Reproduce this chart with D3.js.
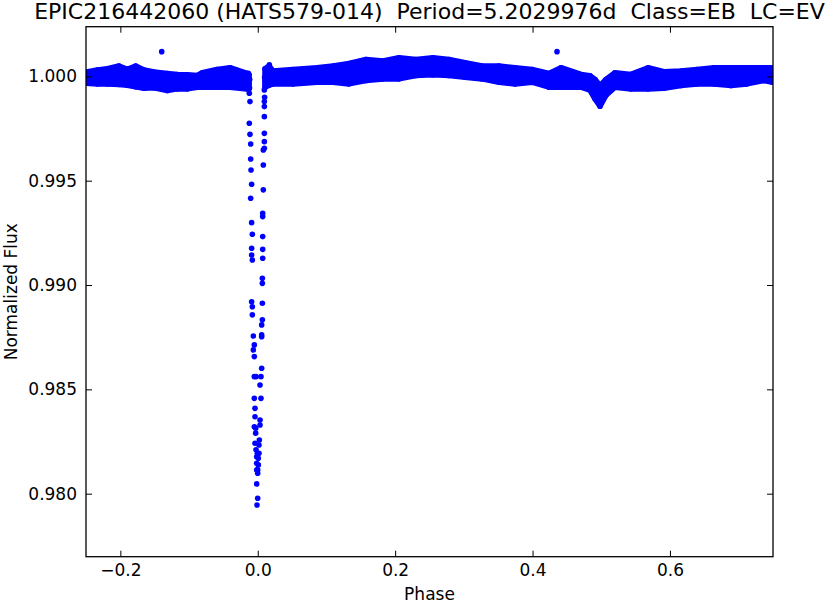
<!DOCTYPE html>
<html><head><meta charset="utf-8">
<script src="https://cdn.jsdelivr.net/npm/d3@7"></script>
<style>body{margin:0;background:#fff} svg{display:block}</style>
</head><body><svg id="c" width="830" height="603"></svg>
<script>
const titleText = "EPIC216442060 (HATS579-014)  Period=5.2029976d  Class=EB  LC=EV";
const xLabel = "Phase";
const yLabel = "Normalized Flux";
const xTicks = [-0.2, 0.0, 0.2, 0.4, 0.6];
const yTicks = [0.980, 0.985, 0.990, 0.995, 1.000];
const xDomain = [-0.25, 0.75];
const yDomain = [0.97698, 1.00238];

// dense out-of-eclipse band: phase, upper and lower envelope of flux (null = eclipse gap)
const bandPhase = [-0.2495,-0.2335,-0.2190,-0.2020,-0.1899,-0.1777,-0.1656,-0.1510,-0.1317,-0.1171,-0.1025,-0.0880,-0.0807,-0.0593,-0.0404,-0.0156,-0.0127,0.0,
  0.0106,0.0164,0.0222,0.0513,0.0862,0.1095,0.1328,0.1576,0.1823,0.2056,0.2303,0.2551,0.2784,0.3017,0.3264,0.3512,0.3745,0.3992,
  0.4239,0.4414,0.4705,0.4836,0.4909,0.4982,0.5069,0.5200,0.5433,0.5681,0.5913,0.6161,0.6394,0.6641,0.6889,0.7122,0.7369,0.7495];
const bandUpper = [1.000206,1.000302,1.000364,1.000494,1.000331,1.000494,1.000302,1.000206,1.000139,1.000091,1.000077,1.000043,1.000173,1.000331,1.000412,1.000139,1.000077,null,
  1.000364,1.000494,1.000254,1.000331,1.000412,1.000494,1.000618,1.000810,1.000733,1.000891,1.000810,1.000891,1.000810,1.000652,1.000494,1.000494,1.000412,1.000331,
  1.000134,1.000412,1.000091,1.000029,0.999851,0.999550,0.999851,1.000173,1.000091,1.000412,1.000220,1.000254,1.000331,1.000412,1.000412,1.000412,1.000412,1.000412];
const bandLower = [0.999674,0.999641,0.999631,0.999612,0.999578,0.999506,0.999434,0.999458,0.999324,0.999401,0.999401,0.999482,0.999482,0.999482,0.999482,0.999401,0.999401,null,
  0.999482,0.999578,0.999641,0.999641,0.999722,0.999722,0.999641,0.999804,0.999880,0.999880,1.000043,1.000081,1.000043,0.999962,0.999880,0.999722,0.999641,0.999722,
  0.999482,0.999482,0.999482,0.999339,0.998922,0.998572,0.999099,0.999482,0.999401,0.999401,0.999434,0.999564,0.999641,0.999641,0.999564,0.999641,0.999804,0.999722];

// individual in-eclipse points
const eclPhase = [-0.0137,-0.0127,-0.0123,-0.0113,-0.0123,-0.0113,-0.0103,-0.0103,-0.0098,-0.0089,-0.0103,-0.0089,-0.0079,-0.0089,-0.0089,-0.0079,
  -0.0089,-0.0079,-0.0079,-0.0064,-0.0050,-0.0064,-0.0050,-0.0050,-0.0025,-0.0050,-0.0040,-0.0040,-0.0050,-0.0030,-0.0030,-0.0040,-0.0025,
  -0.0016,-0.0016,-0.0016,-0.0016,-0.0001,-0.0011,-0.0117,-0.0120,-0.0127,
  0.0169,0.0120,0.0106,0.0096,0.0096,0.0096,0.0096,0.0096,0.0096,0.0096,0.0081,0.0081,0.0081,0.0072,0.0072,0.0072,0.0072,0.0072,
  0.0067,0.0067,0.0067,0.0067,0.0057,0.0057,0.0057,0.0057,0.0047,0.0033,0.0047,0.0033,0.0033,0.0023,0.0018,0.0018,0.0008,0.0008,
  -0.0001,-0.0001,-0.0006,0.0100,0.0110,0.0100];
const eclFlux = [1.00015,0.99967,0.99919,0.99879,0.99775,0.99722,0.99676,0.99604,0.99551,0.99483,0.99416,0.99299,0.99243,0.99176,0.99144,0.99120,
  0.98920,0.98896,0.98857,0.98756,0.98713,0.98689,0.98657,0.98561,0.98561,0.98457,0.98409,0.98369,0.98321,0.98314,0.98290,0.98242,0.98210,
  0.98177,0.98146,0.98114,0.98047,0.97978,0.97946,0.99985,0.99945,0.99990,
  1.00055,1.00015,0.99975,0.99935,0.99879,0.99855,0.99807,0.99727,0.99687,0.99655,0.99647,0.99575,0.99456,0.99344,0.99328,0.99232,0.99171,0.99128,
  0.99032,0.99008,0.98913,0.98833,0.98809,0.98761,0.98752,0.98601,0.98561,0.98521,0.98457,0.98353,0.98329,0.98257,0.98233,0.98194,0.98170,0.98138,
  0.98114,0.98098,0.98194,0.99995,0.99960,0.99900];

// isolated outliers
const outPhase = [-0.1398, 0.4356];
const outFlux = [1.001184, 1.001184];

const W = 830, H = 603;
const m = {left: 86, right: 773, top: 26.7, bottom: 556.7};
const FONT = "DejaVu Sans, sans-serif";
const BLUE = "#0000ff";
const R = 2.8;

const svg = d3.select("#c");
const x = d3.scaleLinear().domain(xDomain).range([m.left, m.right]);
const y = d3.scaleLinear().domain(yDomain).range([m.bottom, m.top]);

svg.append("defs").append("clipPath").attr("id", "clip")
  .append("rect").attr("x", m.left).attr("y", m.top)
  .attr("width", m.right - m.left).attr("height", m.bottom - m.top);

const plot = svg.append("g").attr("clip-path", "url(#clip)");

const band = bandPhase.map((p, i) => ({p, u: bandUpper[i], l: bandLower[i]}));
const area = d3.area()
  .defined(d => d.u != null)
  .x(d => x(d.p)).y0(d => y(d.l)).y1(d => y(d.u));
plot.append("path").datum(band).attr("d", area)
  .attr("fill", BLUE).attr("stroke", BLUE).attr("stroke-width", 2 * R).attr("stroke-linejoin", "round");

const edgePts = band.filter(d => d.u != null).flatMap(d => [{p: d.p, f: d.u}, {p: d.p, f: d.l}]);
plot.selectAll("circle.edge").data(edgePts).join("circle").attr("class", "edge")
  .attr("cx", d => x(d.p)).attr("cy", d => y(d.f)).attr("r", R).attr("fill", BLUE);

const ecl = eclPhase.map((p, i) => ({p, f: eclFlux[i]}));
plot.selectAll("circle.ecl").data(ecl).join("circle").attr("class", "ecl")
  .attr("cx", d => x(d.p)).attr("cy", d => y(d.f)).attr("r", R).attr("fill", BLUE);

const outs = outPhase.map((p, i) => ({p, f: outFlux[i]}));
plot.selectAll("circle.out").data(outs).join("circle").attr("class", "out")
  .attr("cx", d => x(d.p)).attr("cy", d => y(d.f)).attr("r", R).attr("fill", BLUE);

// axes (inward ticks on all four sides)
const fmtX = d3.format(".1f"), fmtY = d3.format(".3f");
function style(g) {
  g.select(".domain").remove();
  g.selectAll(".tick line").attr("stroke", "#000").attr("stroke-width", 1);
  g.selectAll("text").attr("font-family", FONT).attr("font-size", "17px").attr("fill", "#000");
}
svg.append("g").attr("transform", `translate(0,${m.bottom})`)
  .call(d3.axisBottom(x).tickValues(xTicks).tickFormat(fmtX).tickSize(-6).tickPadding(7.5)).call(style);
svg.append("g").attr("transform", `translate(0,${m.top})`)
  .call(d3.axisTop(x).tickValues(xTicks).tickFormat("").tickSize(-6)).call(style);
svg.append("g").attr("transform", `translate(${m.left},0)`)
  .call(d3.axisLeft(y).tickValues(yTicks).tickFormat(fmtY).tickSize(-6).tickPadding(9)).call(style);
svg.append("g").attr("transform", `translate(${m.right},0)`)
  .call(d3.axisRight(y).tickValues(yTicks).tickFormat("").tickSize(-6)).call(style);

svg.append("rect").attr("x", m.left).attr("y", m.top)
  .attr("width", m.right - m.left).attr("height", m.bottom - m.top)
  .attr("fill", "none").attr("stroke", "#000").attr("stroke-width", 1.3);

svg.append("text").attr("x", (m.left + m.right) / 2).attr("y", 19)
  .attr("text-anchor", "middle").style("white-space", "pre")
  .attr("font-family", FONT).attr("font-size", "22px").text(titleText);

svg.append("text").attr("x", (m.left + m.right) / 2).attr("y", 600)
  .attr("text-anchor", "middle").attr("font-family", FONT).attr("font-size", "17px").text(xLabel);

svg.append("text").attr("transform", `translate(17,${(m.top + m.bottom) / 2}) rotate(-90)`)
  .attr("text-anchor", "middle").attr("font-family", FONT).attr("font-size", "17px").text(yLabel);
</script>
</body></html>
